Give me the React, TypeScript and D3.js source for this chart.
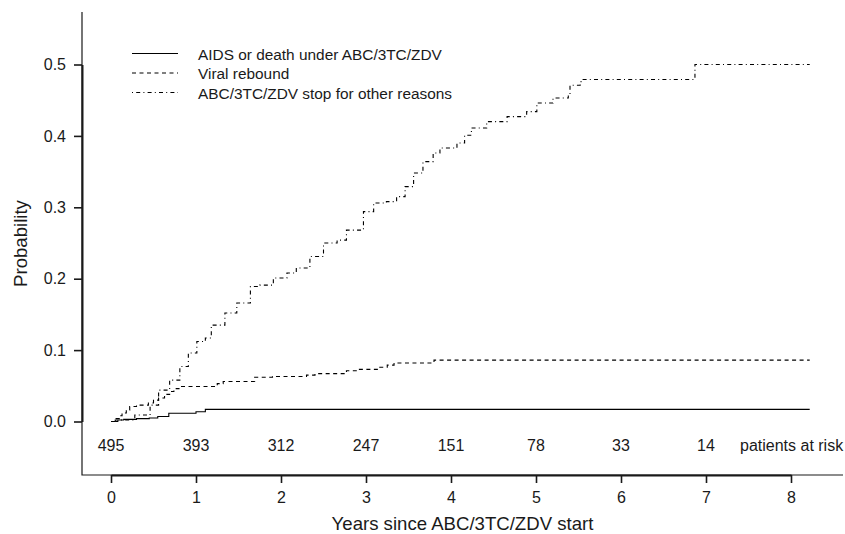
import React, {useRef, useEffect} from 'react';
import * as d3 from 'd3';

// x axis ticks (years) and patients at risk at the start of each year
const years = [0, 1, 2, 3, 4, 5, 6, 7, 8];
const atRisk = [495, 393, 312, 247, 151, 78, 33, 14];
const probTicks = [0, 0.1, 0.2, 0.3, 0.4, 0.5];

// step points
const aidsTime = [0, 0.05, 0.15, 0.3, 0.45, 0.55, 0.68, 1.0, 1.11];
const aidsProb = [0, 0.002, 0.003, 0.004, 0.005, 0.007, 0.0115, 0.0137, 0.017];

const viralTime = [0, 0.06, 0.1, 0.13, 0.18, 0.22, 0.3, 0.44, 0.5, 0.56, 0.63, 0.69, 0.74, 0.8, 1.25, 1.32, 1.69, 1.9, 2.3, 2.4, 2.77, 2.9, 3.15, 3.25, 3.33, 3.8];
const viralProb = [0, 0.004, 0.008, 0.012, 0.016, 0.021, 0.023, 0.026, 0.03, 0.033, 0.038, 0.042, 0.046, 0.049, 0.053, 0.056, 0.062, 0.063, 0.065, 0.067, 0.071, 0.073, 0.076, 0.079, 0.082, 0.086];

const stopTime = [0, 0.08, 0.11, 0.28, 0.46, 0.56, 0.69, 0.81, 0.91, 1.01, 1.11, 1.18, 1.34, 1.48, 1.64, 1.75, 1.91, 2.07, 2.18, 2.34, 2.5, 2.66, 2.77, 2.97, 3.09, 3.24, 3.36, 3.46, 3.56, 3.67, 3.79, 3.87, 4.07, 4.16, 4.24, 4.42, 4.66, 4.89, 5.01, 5.2, 5.38, 5.4, 5.52, 5.54, 6.87];
const stopProb = [0, 0.001, 0.002, 0.009, 0.023, 0.044, 0.058, 0.077, 0.096, 0.112, 0.117, 0.135, 0.152, 0.166, 0.189, 0.191, 0.201, 0.208, 0.215, 0.231, 0.25, 0.254, 0.268, 0.294, 0.306, 0.308, 0.315, 0.329, 0.348, 0.364, 0.376, 0.383, 0.39, 0.401, 0.411, 0.42, 0.427, 0.434, 0.446, 0.453, 0.457, 0.471, 0.476, 0.479, 0.5];

const lastTime = 8.22;

const seriesNames = [
    'AIDS or death under ABC/3TC/ZDV',
    'Viral rebound',
    'ABC/3TC/ZDV stop for other reasons',
];

const FONT = '"Liberation Sans", Arial, Helvetica, sans-serif';
const INK = '#1a1a1a';

const App = () => {
    const svgRef = useRef(null);
    const width = 845;
    const height = 534;

    useEffect(() => {
        const svg = d3.select(svgRef.current);
        svg.selectAll('*').remove();

        const frame = {left: 82, right: 843, top: 12, bottom: 475};

        const x = d3.scaleLinear().domain([0, 8]).range([111, 791]);
        const y = d3.scaleLinear().domain([0, 0.5]).range([421.5, 64.5]);

        // L-shaped box
        svg.append('path')
            .attr('d', `M${frame.left},${frame.top}V${frame.bottom}H${frame.right}`)
            .attr('fill', 'none')
            .attr('stroke', INK)
            .attr('stroke-width', 1.2);

        // x axis
        const xAxis = d3.axisBottom(x)
            .tickValues(years)
            .tickSizeInner(8)
            .tickSizeOuter(0)
            .tickPadding(9)
            .tickFormat(d3.format('d'));

        const gx = svg.append('g')
            .attr('transform', `translate(0, ${frame.bottom})`)
            .call(xAxis);

        // y axis
        const yAxis = d3.axisLeft(y)
            .tickValues(probTicks)
            .tickSizeInner(8)
            .tickSizeOuter(0)
            .tickPadding(8)
            .tickFormat(d3.format('.1f'));

        const gy = svg.append('g')
            .attr('transform', `translate(${frame.left}, 0)`)
            .call(yAxis);

        [gx, gy].forEach(g => {
            g.attr('font-family', FONT).attr('font-size', 16);
            g.select('.domain').attr('stroke', INK).attr('stroke-width', 2);
            g.selectAll('.tick line').attr('stroke', INK).attr('stroke-width', 1.6);
            g.selectAll('.tick text').attr('fill', INK);
        });

        // axis titles
        svg.append('text')
            .attr('x', (frame.left + frame.right) / 2)
            .attr('y', 529.5)
            .attr('text-anchor', 'middle')
            .attr('font-family', FONT)
            .attr('font-size', 18.6)
            .attr('fill', INK)
            .text('Years since ABC/3TC/ZDV start');

        svg.append('text')
            .attr('transform', `translate(27, ${(frame.top + frame.bottom) / 2}) rotate(-90)`)
            .attr('text-anchor', 'middle')
            .attr('font-family', FONT)
            .attr('font-size', 18.6)
            .attr('fill', INK)
            .text('Probability');

        // patients at risk row
        const riskRow = svg.append('g')
            .attr('font-family', FONT)
            .attr('font-size', 16)
            .attr('fill', INK);

        riskRow.selectAll('text.n')
            .data(atRisk)
            .join('text')
            .attr('class', 'n')
            .attr('x', (d, i) => x(years[i]))
            .attr('y', 450.5)
            .attr('text-anchor', 'middle')
            .text(d => d);

        riskRow.append('text')
            .attr('x', x(7) + 34)
            .attr('y', 450.5)
            .text('patients at risk');

        // curves
        const series = [
            {t: aidsTime, p: aidsProb, dash: null},
            {t: viralTime, p: viralProb, dash: '4,3.5'},
            {t: stopTime, p: stopProb, dash: '1,3.2,4,3.2'},
        ];

        const line = d3.line()
            .x(d => x(d[0]))
            .y(d => y(d[1]))
            .curve(d3.curveStepAfter);

        series.forEach(s => {
            const pts = s.t.map((t, i) => [t, s.p[i]]);
            pts.push([lastTime, s.p[s.p.length - 1]]);
            svg.append('path')
                .datum(pts)
                .attr('fill', 'none')
                .attr('stroke', '#000')
                .attr('stroke-width', 1.1)
                .attr('stroke-dasharray', s.dash)
                .attr('d', line);
        });

        // legend
        const legend = svg.append('g')
            .attr('font-family', FONT)
            .attr('font-size', 15.4)
            .attr('fill', INK);

        seriesNames.forEach((name, i) => {
            const base = 59.5 + i * 19.5;
            legend.append('line')
                .attr('x1', 132)
                .attr('x2', 178)
                .attr('y1', base - 6)
                .attr('y2', base - 6)
                .attr('stroke', '#000')
                .attr('stroke-width', 1.1)
                .attr('stroke-dasharray', series[i].dash);
            legend.append('text')
                .attr('x', 198)
                .attr('y', base)
                .text(name);
        });
    }, []);

    return (
        <svg
            ref={svgRef}
            width={width}
            height={height}
            style={{position: 'absolute', left: 0, top: 0, background: '#fff'}}
        />
    );
};

export default App;
